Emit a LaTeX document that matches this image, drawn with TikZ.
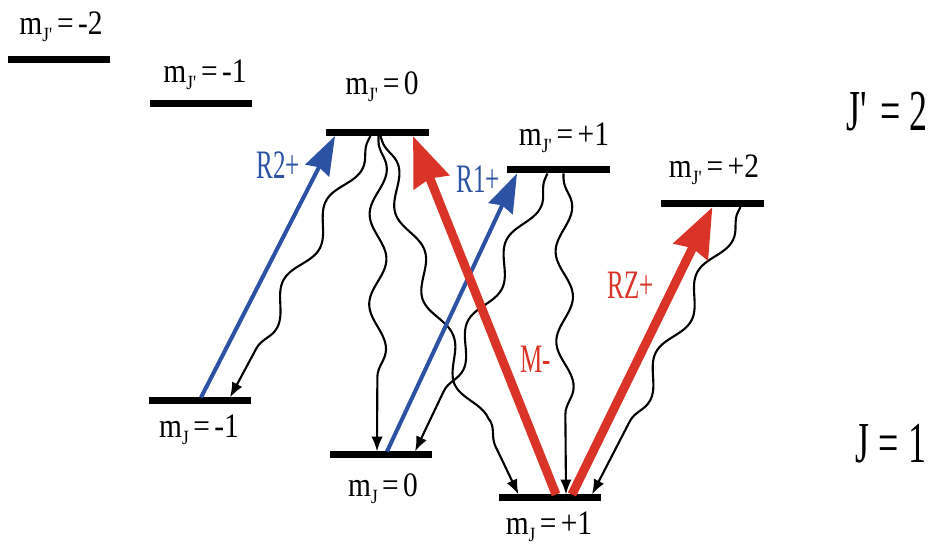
\documentclass[tikz,border=0pt]{standalone}
\usepackage{fontspec}
\setmainfont{Liberation Serif}[FakeStretch=0.86]
\newfontfamily\narrowserif{Liberation Serif}[FakeStretch=0.62]
\usetikzlibrary{
    arrows.meta,
    calc,
    decorations.pathmorphing
}
\definecolor{pumpblue}{RGB}{44,82,163}
\definecolor{pumpred}{RGB}{218,52,40}
\newcommand{\mJ}[1]{m\raisebox{-3.5pt}{\fontsize{11.5}{11.5}\selectfont #1}}
\newcommand{\eqs}{\hspace{2.5pt}=\hspace{2.5pt}}

\begin{document}
\begin{tikzpicture}[
    x=0.02cm, y=-0.02cm,
    level/.style={
        rectangle,
        fill=black,
        minimum width=2.06cm,
        minimum height=0.14cm,
        inner sep=0pt,
        outer sep=0pt
    },
    lvllabel/.style={
        anchor=base,
        inner sep=0pt,
        font=\fontsize{19.5}{19.5}\selectfont
    },
    jlabel/.style={
        anchor=base,
        inner sep=0pt,
        font=\narrowserif\fontsize{33}{33}\selectfont
    },
    pumplabel/.style={
        anchor=base,
        inner sep=0pt,
        font=\narrowserif\fontsize{23}{23}\selectfont
    },
    pumpB/.style={
        -{Stealth[length=22pt,width=15pt,inset=2pt]},
        line width=2.3pt,
        draw=pumpblue
    },
    pumpR/.style={
        -{Stealth[length=28pt,width=21pt,inset=2pt]},
        line width=5.1pt,
        draw=pumpred
    },
    decay/.style={
        -{Latex[length=8.5pt,width=6.5pt]},
        line width=1.2pt,
        draw=black,
        decorate,
        decoration={snake, amplitude=0.17cm, segment length=1.8cm,
                    pre length=0.1cm, post length=0.75cm}
    }
]
\useasboundingbox (0,0) rectangle (934,546);

% =========================================================
% Levels
% =========================================================
\node[level] (up2m) at (59,60) {};
\node[level] (up1m) at (201,103.5) {};
\node[level] (up0)  at (377.5,132.5) {};
\node[level] (up1p) at (558.5,170) {};
\node[level] (up2p) at (712.5,203.5) {};

\node[level] (lo1m) at (200,401) {};
\node[level] (lo0)  at (381,455) {};
\node[level] (lo1p) at (550,498) {};

% =========================================================
% Level labels
% =========================================================
\node[lvllabel] (t-up2m) at (61,35)  {\mJ{J\textquotesingle}\eqs-2};
\node[lvllabel] (t-up1m) at (205,83) {\mJ{J\textquotesingle}\eqs-1};
\node[lvllabel] (t-up0)  at (382,95) {\mJ{J\textquotesingle}\eqs0};
\node[lvllabel] (t-up1p) at (564,146) {\mJ{J\textquotesingle}\eqs+1};
\node[lvllabel] (t-up2p) at (714,178) {\mJ{J\textquotesingle}\eqs+2};

\node[lvllabel] (t-lo1m) at (199,438) {\mJ{J}\eqs-1};
\node[lvllabel] (t-lo0)  at (383,497) {\mJ{J}\eqs0};
\node[lvllabel] (t-lo1p) at (549,535) {\mJ{J}\eqs+1};

\node[jlabel] (t-upper) at (887,131) {J\textquotesingle{} = 2};
\node[jlabel] (t-lower) at (891,463) {J = 1};

% =========================================================
% Spontaneous decay
% =========================================================
\draw[decay] ($(up0.south)+(-7,0)$) -- ($(lo1m.north)+(30,0)$);
\draw[decay] ($(up0.south)+(1,0)$) -- ($(lo0.north)+(-4,0)$);
\draw[decay] ($(up0.south)+(3,0)$) .. controls (440,330) .. ($(lo1p.north west)+(20,0)$);
\draw[decay] ($(up1p.south)+(-11,0)$) -- ($(lo0.north)+(34,0)$);
\draw[decay] ($(up1p.south)+(5,0)$) -- ($(lo1p.north)+(16,0)$);
\draw[decay] ($(up2p.south)+(28,0)$) -- ($(lo1p.north)+(42,0)$);

% =========================================================
% Pump transitions
% =========================================================
\draw[pumpB] ($(lo1m.north)+(1,0)$) -- ($(up0.south west)+(9,0)$);
\draw[pumpB] ($(lo0.north)+(6,0)$) -- ($(up1p.south west)+(10,0)$);
\draw[pumpR] ($(lo1p.north)+(6,0)$) -- ($(up0.south east)+(-16,0)$);
\draw[pumpR] ($(lo1p.north)+(22,0)$) -- (up2p.south);

\node[pumplabel, text=pumpblue] (t-r2) at (278,179) {R2+};
\node[pumplabel, text=pumpblue] (t-r1) at (478,193) {R1+};
\node[pumplabel, text=pumpred]  (t-m)  at (536,373) {M-};
\node[pumplabel, text=pumpred]  (t-rz) at (631,299) {RZ+};

\end{tikzpicture}
\end{document}
